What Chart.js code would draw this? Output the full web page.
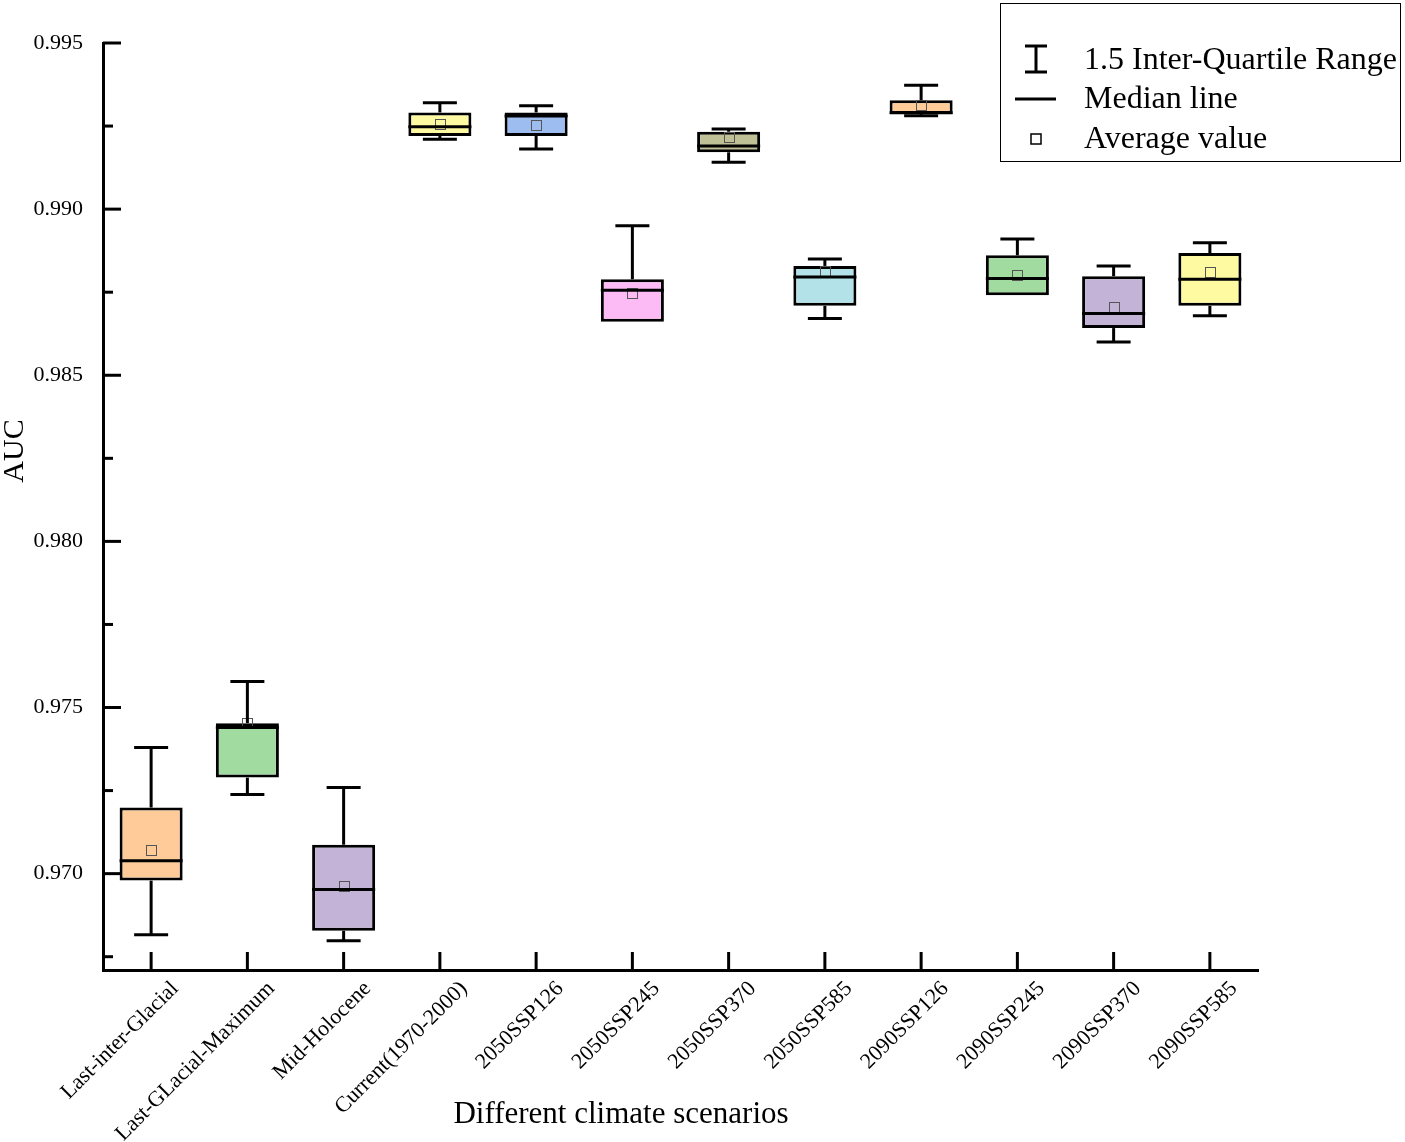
<!DOCTYPE html>
<html><head><meta charset="utf-8">
<script src="https://cdn.jsdelivr.net/npm/chart.js@4.4.0/dist/chart.umd.min.js"></script>
<style>html,body{margin:0;padding:0;background:#fff;}#wrap{width:1405px;height:1142px;position:relative;}</style>
</head><body><div id="wrap"><canvas id="c" width="1405" height="1142"></canvas></div>
<script>
const categories = ['Last-inter-Glacial','Last-GLacial-Maximum','Mid-Holocene','Current(1970-2000)','2050SSP126','2050SSP245','2050SSP370','2050SSP585','2090SSP126','2090SSP245','2090SSP370','2090SSP585'];
const whiskerLow  = [0.96816,0.97238,0.96798,0.99210,0.99181,0.98661,0.99141,0.98671,0.99281,0.98741,0.98600,0.98679];
const q1          = [0.96979,0.97289,0.96828,0.99220,0.99220,0.98661,0.99171,0.98709,0.99286,0.98741,0.98642,0.98709];
const median      = [0.97039,0.97440,0.96952,0.99248,0.99280,0.98756,0.99190,0.98796,0.99290,0.98791,0.98686,0.98789];
const q3          = [0.97199,0.97453,0.97087,0.99291,0.99291,0.98789,0.99233,0.98829,0.99328,0.98861,0.98798,0.98868];
const whiskerHigh = [0.97380,0.97578,0.97259,0.99320,0.99311,0.98950,0.99241,0.98850,0.99373,0.98910,0.98829,0.98899];
const mean        = [0.97072,0.97452,0.96964,0.99256,0.99253,0.98748,0.99217,0.98814,0.99313,0.98803,0.98706,0.98811];
const boxColors   = ['#FECB99','#A2DBA0','#C3B3D7','#FEFAA2','#9DBDF1','#FDBBF5','#C0C097','#B3E3E8','#FECB99','#A2DBA0','#C3B3D7','#FEFAA2'];
const yMajorTicks = [0.970,0.975,0.980,0.985,0.990,0.995];
const yMinorTicks = [0.9675,0.9725,0.9775,0.9825,0.9875,0.9925];
const yMin = 0.9671, yMax = 0.995;
const legendLabels = ['1.5 Inter-Quartile Range','Median line','Average value'];
const xTitle = 'Different climate scenarios';
const yTitle = 'AUC';

const SERIF = "'Liberation Serif','Times New Roman',serif";

const boxExtras = {
  id:'boxExtras',
  afterDatasetsDraw(chart){
    const ctx = chart.ctx, ys = chart.scales.y;
    const meta = chart.getDatasetMeta(0);
    ctx.save();
    meta.data.forEach((bar,i)=>{
      const cx = bar.x, half = bar.width/2, cap = 17;
      const ym = ys.getPixelForValue(mean[i]);
      ctx.lineWidth = 1; ctx.strokeStyle = '#555';
      ctx.strokeRect(Math.round(cx-5)+0.5, Math.round(ym-5)+0.5, 10, 10);
      ctx.strokeStyle = '#000'; ctx.lineWidth = 3; ctx.lineCap='butt';
      const ymed = ys.getPixelForValue(median[i]);
      ctx.beginPath(); ctx.moveTo(cx-half, ymed); ctx.lineTo(cx+half, ymed); ctx.stroke();
      const yq3 = ys.getPixelForValue(q3[i]), yq1 = ys.getPixelForValue(q1[i]);
      const yh = ys.getPixelForValue(whiskerHigh[i]), yl = ys.getPixelForValue(whiskerLow[i]);
      if (whiskerHigh[i] > q3[i]) {
        ctx.beginPath(); ctx.moveTo(cx, yq3); ctx.lineTo(cx, yh); ctx.stroke();
        ctx.beginPath(); ctx.moveTo(cx-cap, yh); ctx.lineTo(cx+cap, yh); ctx.stroke();
      }
      if (whiskerLow[i] < q1[i]) {
        ctx.beginPath(); ctx.moveTo(cx, yq1); ctx.lineTo(cx, yl); ctx.stroke();
        ctx.beginPath(); ctx.moveTo(cx-cap, yl); ctx.lineTo(cx+cap, yl); ctx.stroke();
      }
    });
    ctx.restore();
  },
  afterDraw(chart){
    const ctx = chart.ctx, ys = chart.scales.y, xs = chart.scales.x, ca = chart.chartArea;
    ctx.save();
    ctx.strokeStyle = '#000'; ctx.lineWidth = 3;
    yMajorTicks.forEach(v=>{ const p = ys.getPixelForValue(v); ctx.beginPath(); ctx.moveTo(ca.left, p); ctx.lineTo(ca.left+18, p); ctx.stroke(); });
    yMinorTicks.forEach(v=>{ const p = ys.getPixelForValue(v); ctx.beginPath(); ctx.moveTo(ca.left, p); ctx.lineTo(ca.left+10, p); ctx.stroke(); });
    categories.forEach((c,i)=>{ const p = xs.getPixelForValue(i); ctx.beginPath(); ctx.moveTo(p, ca.bottom); ctx.lineTo(p, ca.bottom-18); ctx.stroke(); });
    ctx.fillStyle = '#000';
    ctx.textAlign = 'center'; ctx.textBaseline = 'middle';
    ctx.font = "31px " + SERIF;
    ctx.fillText(xTitle, 621, 1115);
    ctx.font = "30px " + SERIF;
    ctx.save(); ctx.translate(15, 451); ctx.rotate(-Math.PI/2); ctx.fillText(yTitle, 0, 0); ctx.restore();
    ctx.lineWidth = 1; ctx.strokeStyle = '#000';
    ctx.strokeRect(1000.5, 3.5, 400, 158);
    ctx.lineWidth = 3;
    ctx.beginPath(); ctx.moveTo(1036, 46); ctx.lineTo(1036, 72); ctx.stroke();
    ctx.beginPath(); ctx.moveTo(1025, 46); ctx.lineTo(1047, 46); ctx.stroke();
    ctx.beginPath(); ctx.moveTo(1025, 72); ctx.lineTo(1047, 72); ctx.stroke();
    ctx.beginPath(); ctx.moveTo(1015, 99); ctx.lineTo(1056, 99); ctx.stroke();
    ctx.lineWidth = 1.5; ctx.strokeRect(1031, 134, 10, 10);
    ctx.textAlign = 'left'; ctx.textBaseline = 'middle';
    ctx.font = "32px " + SERIF;
    [61,100,140].forEach((yy,k)=>ctx.fillText(legendLabels[k], 1084, yy));
    ctx.restore();
  }
};

new Chart(document.getElementById('c'), {
  type:'bar',
  data:{ labels: categories, datasets:[{
    data: categories.map((c,i)=>[q1[i], q3[i]]),
    backgroundColor: boxColors, borderColor:'#000', borderWidth:3, borderSkipped:false,
    barPercentage:0.655, categoryPercentage:1
  }]},
  options:{
    responsive:false, animation:false,
    layout:{ padding:{ left:0, right:147, top:43, bottom:0 } },
    plugins:{ legend:{display:false}, tooltip:{enabled:false} },
    scales:{
      x:{ type:'category', offset:true,
        grid:{display:false, drawTicks:false},
        border:{display:true, width:3, color:'#000'},
        ticks:{ autoSkip:false, maxRotation:45, minRotation:45, padding:6, labelOffset:24,
          color:'#000', font:{family:SERIF, size:22} },
        afterFit(s){ s.height = 172; s.paddingLeft = 0; s.paddingRight = 0; }
      },
      y:{ type:'linear', min:yMin, max:yMax,
        grid:{display:false, drawTicks:false},
        border:{display:true, width:3, color:'#000'},
        afterBuildTicks(s){ s.ticks = yMajorTicks.map(v=>({value:v})); },
        ticks:{ padding:20, color:'#000', font:{family:SERIF, size:22}, callback:v=>Number(v).toFixed(3) },
        afterFit(s){ s.width = 103; }
      }
    }
  },
  plugins:[boxExtras]
});
</script></body></html>
